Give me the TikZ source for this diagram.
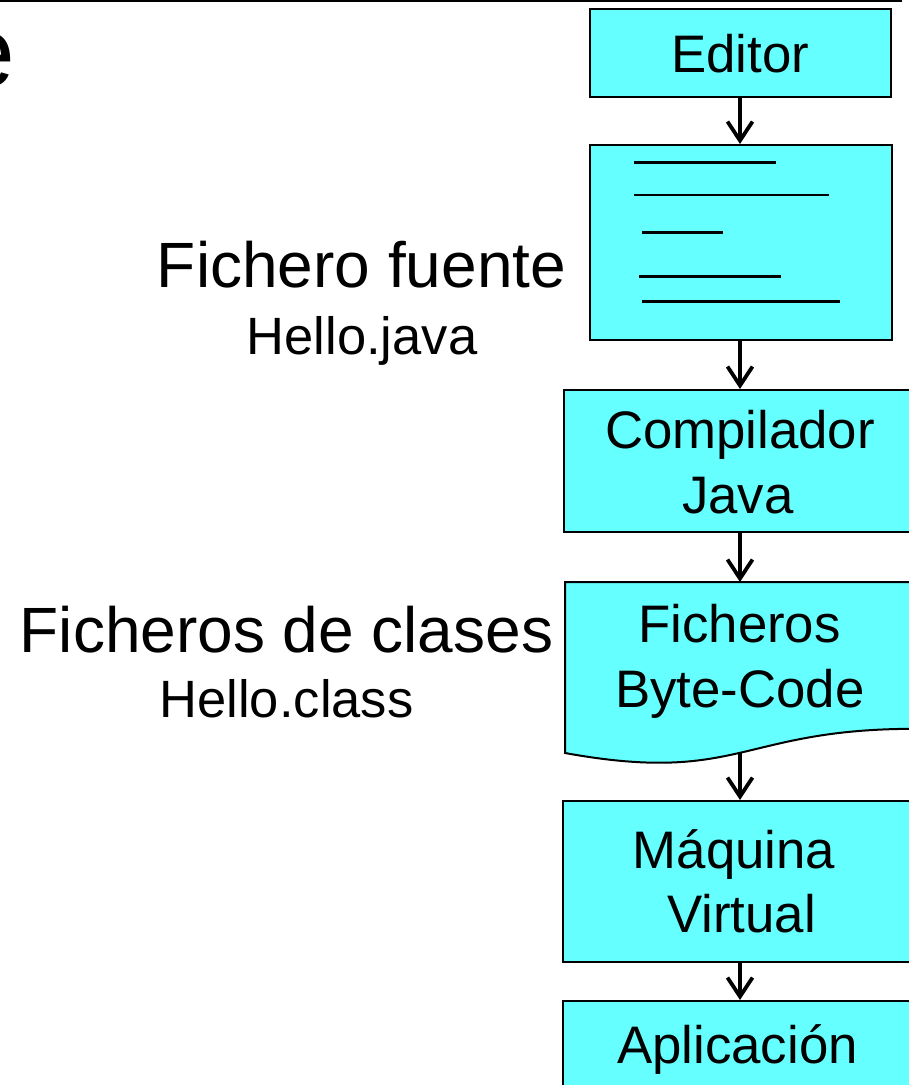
\documentclass[tikz,border=0pt]{standalone}
\usepackage{fontspec}
\setmainfont{Liberation Sans}
\usetikzlibrary{arrows.meta}
\definecolor{boxfill}{RGB}{102,255,255}
\begin{document}
\begin{tikzpicture}[x=1pt,y=-1pt,
  box/.style={draw=black, line width=2pt, fill=boxfill, inner sep=0pt, anchor=north west},
  flow/.style={line width=3.8pt, line join=miter, -{Straight Barb[length=19pt,width=25pt]}},
  srcline/.style={line width=2.5pt},
  boxtxt/.style={anchor=base, inner sep=0pt, font=\fontsize{52.8}{62}\selectfont},
  bigtxt/.style={anchor=base, inner sep=0pt, font=\fontsize{64}{75}\selectfont},
  smalltxt/.style={anchor=base, inner sep=0pt, font=\fontsize{52.5}{62}\selectfont}]
\useasboundingbox (0,0) rectangle (909,1085);
\clip (0,0) rectangle (909,1085);

% rule along the top and the tail of the heading
\draw[line width=2pt] (0,1) -- (902,1);
\node[anchor=base west, inner sep=0pt, font=\fontsize{100}{120}\selectfont] (heading) at (-41,86.5) {e};

% editor
\node[box, minimum width=301pt, minimum height=88pt] (editor) at (589,8) {};
\node[boxtxt] (editortxt) at (740,72) {Editor};

% source file with its lines of code
\node[box, minimum width=302pt, minimum height=195pt] (src) at (589,144) {};
\draw[srcline] (634,162.7) -- (776,162.7);
\draw[srcline] (634,195) -- (829,195);
\draw[line width=3.5pt] (642,232.3) -- (723,232.3);
\draw[srcline] (639,276.7) -- (781,276.7);
\draw[srcline] (642,301.7) -- (840,301.7);

% compiler
\node[box, minimum width=354pt, minimum height=142pt] (comp) at (563,389) {};
\node[boxtxt] (comptxt1) at (740,448) {Compilador};
\node[boxtxt] (comptxt2) at (738,513) {Java};

% byte-code files (document shape)
\draw[line width=2pt, fill=boxfill, line join=miter]
  (565,582) -- (915,582) -- (915,728.8)
  .. controls (740,728.8) and (740,784.7) .. (565,753) -- cycle;
\coordinate (doctop) at (740,582);
\coordinate (docbot) at (740,752.8);
\node[boxtxt] (doctxt1) at (739.5,642) {Ficheros};
\node[boxtxt] (doctxt2) at (740,707) {Byte-Code};

% virtual machine
\node[box, minimum width=356pt, minimum height=161pt] (jvm) at (562,800) {};
\node[boxtxt] (jvmtxt1) at (734,868) {Máquina};
\node[boxtxt] (jvmtxt2) at (741.5,932) {Virtual};

% application
\node[box, minimum width=356pt, minimum height=160pt] (app) at (562,1000) {};
\node[boxtxt] (apptxt) at (737.5,1063) {Aplicación};

% flow arrows
\draw[flow] (editor.south -| 740,0) -- (src.north -| 740,0);
\draw[flow] (src.south -| 740,0) -- (comp.north -| 740,0);
\draw[flow] (comp.south -| 740,0) -- (doctop);
\draw[flow] (docbot) -- (jvm.north -| 740,0);
\draw[flow] (jvm.south -| 740,0) -- (app.north -| 740,0);

% side labels
\node[bigtxt] (srclabel) at (361.5,287) {Fichero fuente};
\node[smalltxt] (srcname) at (362,354) {Hello.java};
\node[bigtxt] (clslabel) at (286.5,652) {Ficheros de clases};
\node[smalltxt] (clsname) at (286.5,717) {Hello.class};
\end{tikzpicture}
\end{document}
